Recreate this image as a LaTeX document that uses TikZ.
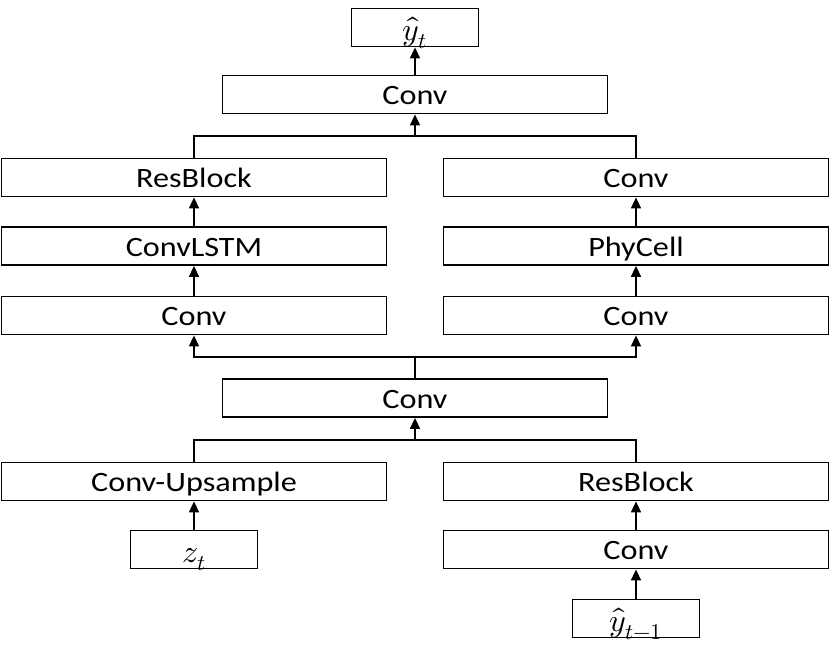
\documentclass[tikz,border=0pt]{standalone}
\usepackage{unicode-math}
\setmainfont{Carlito}[FakeStretch=1.15]
\setmathfont{Latin Modern Math}
\usetikzlibrary{arrows.meta}
\tikzstyle{block}=[draw=black, line width=1.8pt, minimum width=385pt, minimum height=38pt, inner sep=0pt, text height=24pt, text depth=4pt, font=\fontsize{28}{30}\selectfont]
\tikzstyle{smallblock}=[block, minimum width=127pt, text height=27pt, text depth=1pt, font=\fontsize{32}{34}\selectfont]
\tikzstyle{arrow}=[draw=black, line width=1.6pt, -{Triangle[length=11pt,width=10pt]}]
\tikzstyle{link}=[draw=black, line width=1.6pt]

\begin{document}
\begin{tikzpicture}[x=1pt, y=-1pt]
    \useasboundingbox (0,0) rectangle (830,650);
    % output
    \node[smallblock] (yout) at (415, 27.5) {$\hat{y}_t$};
    \node[block] (convtop) at (415, 94.5) {Conv};
    % left branch
    \node[block] (resleft) at (194, 177.5) {ResBlock};
    \node[block] (convlstm) at (194, 246) {ConvLSTM};
    \node[block] (convleft) at (194, 315.5) {Conv};
    % right branch
    \node[block] (convright) at (636, 177.5) {Conv};
    \node[block] (phycell) at (636, 246) {PhyCell};
    \node[block] (convright2) at (636, 315.5) {Conv};
    % shared
    \node[block] (convmid) at (415, 398) {Conv};
    % inputs
    \node[block] (upsample) at (194, 481.5) {Conv-Upsample};
    \node[block] (resright) at (636, 481.5) {ResBlock};
    \node[smallblock] (zin) at (194, 549.5) {$z_t$};
    \node[block] (convin) at (636, 549.5) {Conv};
    \node[smallblock] (yprev) at (636, 618.5) {$\hat{y}_{t-1}$};

    \coordinate (jointop) at (415, 136);
    \coordinate (splitmid) at (415, 357);
    \coordinate (joinlow) at (415, 440);

    \draw[arrow] (convtop) -- (yout);
    \draw[link] (resleft.north) |- (jointop) -| (convright.north);
    \draw[arrow] (jointop) -- (convtop.south);
    \draw[arrow] (convlstm) -- (resleft);
    \draw[arrow] (convleft) -- (convlstm);
    \draw[arrow] (phycell) -- (convright);
    \draw[arrow] (convright2) -- (phycell);
    \draw[link] (convmid.north) -- (splitmid);
    \draw[arrow] (splitmid) -| (convleft.south);
    \draw[arrow] (splitmid) -| (convright2.south);
    \draw[link] (upsample.north) |- (joinlow) -| (resright.north);
    \draw[arrow] (joinlow) -- (convmid.south);
    \draw[arrow] (zin) -- (upsample);
    \draw[arrow] (convin) -- (resright);
    \draw[arrow] (yprev) -- (convin);
\end{tikzpicture}
\end{document}
